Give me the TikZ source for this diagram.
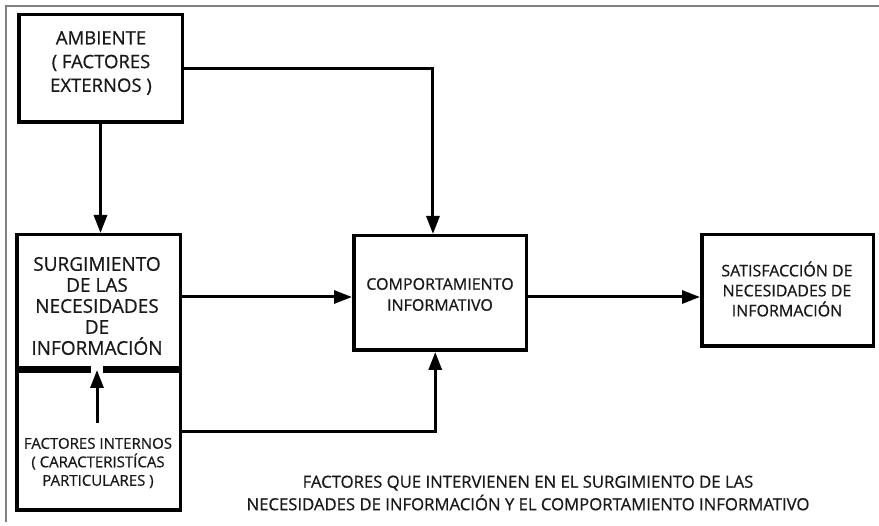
\documentclass[tikz,border=0pt]{standalone}
\usepackage{fontspec}
\setmainfont{Open Sans}[BoldFont={Open Sans}, BoldFeatures={FakeBold=0.6}]
\usetikzlibrary{arrows.meta,calc}
\tikzset{
  box/.style={draw=black, line width=3.5pt, inner sep=0pt, fill=white},
  lbl/.style={align=center, text=black!90, inner sep=0pt},
  conn/.style={line width=3pt},
  arr/.style={conn, -{Triangle[length=18pt,width=13pt]}},
  frameline/.style={draw=gray, line width=1.6pt}
}
\begin{document}
\begin{tikzpicture}[x=1pt,y=-1pt]
\useasboundingbox (0,0) rectangle (879,526);
\fill[white] (0,0) rectangle (879,526);
% frame
\coordinate (f1) at (6,522);
\coordinate (f2) at (6,6);
\coordinate (f3) at (879,6);
\draw[frameline] (f1) -- (f2) -- (f3);
% boxes
\node[box, minimum width=163.5pt, minimum height=107.5pt] (amb) at (100.5,68.5) {};
\node[box, minimum width=163.5pt, minimum height=133.5pt] (surg) at (98.5,301.5) {};
\node[box, minimum width=163.5pt, minimum height=138.5pt] (fact) at (98.5,441) {};
\node[box, minimum width=172.5pt, minimum height=114.5pt] (comp) at (440,293) {};
\node[box, minimum width=171.5pt, minimum height=111.5pt] (sat) at (787.5,290.5) {};
% labels
\node[lbl, font=\bfseries\fontsize{18.5}{23.7}\selectfont] (tamb) at (101,63) {AMBIENTE\\( FACTORES\\EXTERNOS )};
\node[lbl, font=\bfseries\fontsize{19}{21}\selectfont] (tsurg) at (97,306) {SURGIMIENTO\\DE LAS\\NECESIDADES\\DE\\INFORMACIÓN};
\node[lbl, font=\bfseries\fontsize{15}{18.5}\selectfont] (tfact) at (98,463) {FACTORES INTERNOS\\( CARACTERISTÍCAS\\PARTICULARES )};
\node[lbl, font=\bfseries\fontsize{16}{21}\selectfont] (tcomp) at (440,294.5) {COMPORTAMIENTO\\INFORMATIVO};
\node[lbl, font=\bfseries\fontsize{16}{20}\selectfont] (tsat) at (787,289) {SATISFACCIÓN DE\\NECESIDADES DE\\INFORMACIÓN};
\node[lbl, font=\bfseries\fontsize{16.7}{22.5}\selectfont] (cap) at (528,493) {FACTORES QUE INTERVIENEN EN EL SURGIMIENTO DE LAS\\NECESIDADES DE INFORMACIÓN Y EL COMPORTAMIENTO INFORMATIVO};
% divider between surg and fact
\draw[line width=7pt] (surg.south west) -- (surg.south east);
\fill[white] (91,366) rectangle (103,374);
% connectors
\draw[arr] (amb.south) -- (amb.south |- surg.north);
\draw[arr] (amb.east) -| ($(comp.north west)!0.46!(comp.north east)$);
\draw[arr] (surg.east |- 0,297) -- (comp.west |- 0,297);
\draw[arr] (comp.east |- 0,297) -- (sat.west |- 0,297);
\draw[arr] (fact.east |- 0,432) -| ($(comp.south west)!0.473!(comp.south east)$);
\coordinate (fi) at (97,423);
\draw[arr] (fi) -- (fi |- surg.south);
\end{tikzpicture}
\end{document}
